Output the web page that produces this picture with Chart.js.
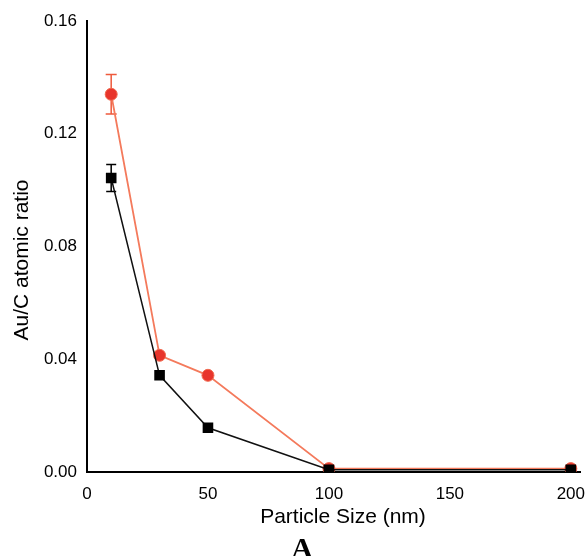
<!DOCTYPE html>
<html>
<head>
<meta charset="utf-8">
<script src="https://cdn.jsdelivr.net/npm/chart.js@4"></script>
<style>
html,body{margin:0;padding:0;background:#fff;}
#wrap{width:588px;height:556px;position:relative;}
</style>
</head>
<body>
<div id="wrap"><canvas id="c" width="588" height="556"></canvas></div>
<script>
const sizes = [10, 30, 50, 100, 200];
const redVals = [0.134, 0.0414, 0.0343, 0.0012, 0.0012];
const redErr = [0.007, 0, 0, 0.0008, 0.0008];
const blackVals = [0.1043, 0.0343, 0.0157, 0.0008, 0.0008];
const blackErr = [0.0048, 0, 0, 0.0006, 0.0006];
const xTicks = [0, 50, 100, 150, 200];
const yTicks = [0, 0.04, 0.08, 0.12, 0.16];
const xTitle = 'Particle Size (nm)';
const yTitle = 'Au/C atomic ratio';
const panelLabel = 'A';

const toPts = (vals) => sizes.map((s, i) => ({x: s, y: vals[i]}));

const errPlugin = {
  id: 'errbars',
  beforeDatasetsDraw(chart) {
    const ctx = chart.ctx;
    const xs = chart.scales.x, ys = chart.scales.y;
    const sets = [
      {vals: blackVals, err: blackErr, color: '#000000', cap: 5},
      {vals: redVals, err: redErr, color: '#ee5a3c', cap: 5.5}
    ];
    ctx.save();
    sets.forEach(s => {
      ctx.strokeStyle = s.color;
      ctx.lineWidth = 1.5;
      sizes.forEach((sz, i) => {
        if (!s.err[i]) return;
        const px = xs.getPixelForValue(sz);
        const top = ys.getPixelForValue(s.vals[i] + s.err[i]);
        const bot = ys.getPixelForValue(s.vals[i] - s.err[i]);
        ctx.beginPath();
        ctx.moveTo(px, top); ctx.lineTo(px, bot);
        ctx.moveTo(px - s.cap, top); ctx.lineTo(px + s.cap, top);
        ctx.moveTo(px - s.cap, bot); ctx.lineTo(px + s.cap, bot);
        ctx.stroke();
      });
    });
    ctx.restore();
  }
};

const titlePlugin = {
  id: 'titles',
  afterDraw(chart) {
    const ctx = chart.ctx;
    ctx.save();
    ctx.fillStyle = '#000';
    ctx.textAlign = 'center';
    ctx.textBaseline = 'middle';
    ctx.font = '21px "Liberation Sans", Arial, sans-serif';
    ctx.fillText(xTitle, 343, 517);
    ctx.save();
    ctx.translate(22, 260);
    ctx.rotate(-Math.PI / 2);
    ctx.fillText(yTitle, 0, 0);
    ctx.restore();
    ctx.font = 'bold 30px "Liberation Serif", "Times New Roman", serif';
    ctx.fillText(panelLabel, 302, 550);
    ctx.restore();
  }
};

new Chart(document.getElementById('c'), {
  type: 'scatter',
  data: {
    datasets: [
      {
        label: 'black',
        data: toPts(blackVals),
        showLine: true,
        borderColor: '#111111',
        borderWidth: 1.5,
        pointStyle: 'rect',
        pointRadius: 7.5,
        pointBackgroundColor: '#000000',
        pointBorderColor: '#000000',
        pointBorderWidth: 0,
        order: 0
      },
      {
        label: 'red',
        data: toPts(redVals),
        showLine: true,
        borderColor: '#f47a5c',
        borderWidth: 1.8,
        pointStyle: 'circle',
        pointRadius: 6,
        pointBackgroundColor: '#e8352c',
        pointBorderColor: '#f06a50',
        pointBorderWidth: 1,
        order: 1
      }
    ]
  },
  options: {
    responsive: false,
    animation: false,
    devicePixelRatio: 1,
    layout: {padding: {top: 21, right: 0, left: 0, bottom: 0}},
    plugins: {legend: {display: false}, tooltip: {enabled: false}},
    scales: {
      x: {
        type: 'linear',
        min: 0,
        max: 204,
        afterBuildTicks(scale) { scale.ticks = xTicks.map(v => ({value: v})); },
        afterFit(scale) { scale.height = 84; scale.paddingLeft = 0; scale.paddingRight = 0; },
        grid: {display: false, drawTicks: false},
        border: {display: true, color: '#000', width: 2},
        ticks: {
          padding: 12,
          color: '#000',
          font: {family: '"Liberation Sans", Arial, sans-serif', size: 17},
          callback: v => String(v)
        }
      },
      y: {
        type: 'linear',
        min: 0,
        max: 0.16,
        afterBuildTicks(scale) { scale.ticks = yTicks.map(v => ({value: v})); },
        afterFit(scale) { scale.width = 87; scale.paddingTop = 0; scale.paddingBottom = 0; },
        grid: {display: false, drawTicks: false},
        border: {display: true, color: '#000', width: 2},
        ticks: {
          padding: 10,
          color: '#000',
          font: {family: '"Liberation Sans", Arial, sans-serif', size: 17},
          callback: v => Number(v).toFixed(2)
        }
      }
    }
  },
  plugins: [errPlugin, titlePlugin]
});
</script>
</body>
</html>
